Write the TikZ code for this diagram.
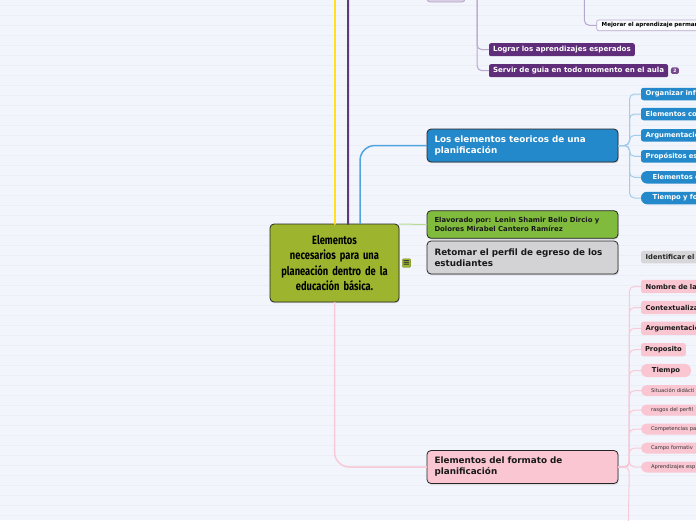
\documentclass[tikz,border=0pt]{standalone}
\usepackage{fontspec}
\setmainfont{DejaVu Sans}
\newfontfamily\condfont[FakeStretch=0.78]{Fira Sans}
\usetikzlibrary{positioning, shadows}
\definecolor{bgPaper}{HTML}{F3F5FC}
\definecolor{bgRule}{HTML}{EBEEF7}
\definecolor{mOlive}{HTML}{9DB52E}
\definecolor{mBlue}{HTML}{2389CB}
\definecolor{mGreen}{HTML}{80BB3E}
\definecolor{mGray}{HTML}{D3D3D6}
\definecolor{mPink}{HTML}{F9C6D2}
\definecolor{mPurple}{HTML}{5F2D79}
\definecolor{mLilac}{HTML}{D8CFE2}
\definecolor{lnYellow}{HTML}{FFE21C}
\definecolor{lnPurple}{HTML}{5E3A7C}
\definecolor{lnLilac}{HTML}{B9A6CD}
\definecolor{lnBlue}{HTML}{4FA4DD}
\definecolor{lnSky}{HTML}{A2CCEB}
\definecolor{lnPink}{HTML}{F8C9D6}
\definecolor{lnGreen}{HTML}{B8DA92}
\definecolor{lnGray}{HTML}{D6D7DC}
\colorlet{inkdark}{black!85}

\begin{document}
\begin{tikzpicture}[x=1pt, y=-1pt,
  every node/.style={inner sep=0pt, outer sep=0pt},
  hub/.style={draw=inkdark, fill=mOlive, rounded corners=4pt, line width=0.8pt,
              minimum width=129pt, minimum height=78pt, text width=125pt, align=center,
              font=\condfont\bfseries\fontsize{12}{15.3}\selectfont,
              drop shadow={shadow xshift=0.6pt, shadow yshift=-1.2pt, opacity=0.3}},
  topic/.style={draw=inkdark, rounded corners=4pt, line width=0.8pt, anchor=west,
                minimum width=191pt, minimum height=33pt, text width=176pt,
                inner xsep=7.5pt, align=left, text=black!90,
                font=\fontsize{8.8}{11}\selectfont\bfseries,
                drop shadow={shadow xshift=0.6pt, shadow yshift=-1.2pt, opacity=0.3}},
  leaf/.style={anchor=west, rounded corners=2.5pt, minimum height=12.5pt,
               inner xsep=4.7pt, text width=62pt, align=left,
               font=\fontsize{6.8}{7}\selectfont\bfseries},
  pill/.style={leaf, rounded corners=6pt, inner xsep=11.7pt, text width=55pt},
  tiny pill/.style={anchor=west, rounded corners=5.5pt, minimum height=11pt,
                    inner xsep=10pt, text width=55pt, align=left, fill=mPink,
                    text=black!80, font=\fontsize{5.2}{5.5}\selectfont},
  goal/.style={anchor=west, fill=mPurple, text=white, rounded corners=2pt,
               minimum height=13pt, inner xsep=4pt,
               font=\fontsize{7.1}{8}\selectfont\bfseries},
  trunk/.style={line width=2pt, line cap=round},
  twig/.style={line width=1pt, rounded corners=5pt},
]
  % paper
  \useasboundingbox (0,0) rectangle (696,520);
  \clip (0,0) rectangle (696,520);
  \fill[bgPaper] (0,0) rectangle (696,520);
  \foreach \k in {0,...,51}
    \draw[bgRule, line width=1pt] (0,5.3+10*\k) -- (696,5.3+10*\k);

  % root
  \node[hub] (hub) at (334.5,263)
    {Elementos\\necesarios para una\\planeación dentro de la\\educación básica.};
  \node[fill=mOlive, draw=mOlive!70!black, line width=0.3pt, rounded corners=1pt,
        minimum width=8.5pt, minimum height=8.5pt, text=black!80,
        font=\fontsize{8.5}{8.5}\selectfont\bfseries] (note) at (406.5,263) {≡};

  % main topics
  \node[topic, fill=mBlue, text=white] (teoria) at (427,145.5)
    {Los elementos teoricos de una\\planificación};
  \node[topic, fill=mGreen, minimum height=27.6pt,
        font=\fontsize{6.9}{9}\selectfont\bfseries] (autores) at (427,224.5)
    {Elavorado por: Lenin Shamir Bello Dircio y\\Dolores Mirabel Cantero Ramírez};
  \node[topic, fill=mGray] (perfil) at (427,257.5)
    {Retomar el perfil de egreso de los\\estudiantes};
  \node[topic, fill=mPink] (formato) at (427,467)
    {Elementos del formato de\\planificación};

  % purple branch (top, cut by the page)
  \node[fill=mLilac, draw=lnLilac, line width=0.8pt, rounded corners=3pt,
        minimum width=38pt, minimum height=24pt] (metas) at (446,-10) {};
  \node[goal] (lograr) at (489,49.7) {Lograr los aprendizajes esperados};
  \node[goal] (servir) at (489,70.7) {Servir de guia en todo momento en el aula};
  \node[fill=mPurple!85, text=white, rounded corners=1.5pt, minimum width=8pt,
        minimum height=6.5pt, font=\fontsize{4.5}{5}\selectfont\bfseries,
        right=2.7pt of servir] (badge) {2};
  \node[anchor=west, fill=white!60!bgPaper, draw=lnLilac, line width=0.7pt,
        rounded corners=2pt, minimum height=10.7pt, inner xsep=5pt, text width=110pt,
        align=left, font=\fontsize{5.6}{6}\selectfont\bfseries] (mejorar) at (596.7,25.3)
    {Mejorar el aprendizaje perman};
  \coordinate (mejorarup) at (584.3,-12);
  \coordinate (yellowup) at (334.5,-12);
  \coordinate (purpleup) at (380,-14);
  \coordinate (formdown) at (628.3,530);

  % blue leaves
  \node[leaf, fill=mBlue, text=white] (t1) at (641,94) {Organizar inf};
  \node[leaf, fill=mBlue, text=white] (t2) at (641,114) {Elementos co};
  \node[leaf, fill=mBlue, text=white] (t3) at (641,135.3) {Argumentació};
  \node[leaf, fill=mBlue, text=white] (t4) at (641,156.3) {Propósitos es};
  \node[pill, fill=mBlue, text=white] (t5) at (641,177.3) {Elementos d};
  \node[pill, fill=mBlue, text=white] (t6) at (641,198) {Tiempo y fo};

  % gray leaf
  \node[leaf, fill=mGray!90!white, text=black!85] (p1) at (641,257.2) {Identificar el};

  % pink leaves
  \node[leaf, fill=mPink, text=black!90, minimum height=13.3pt] (f1) at (641,286.5) {Nombre de la};
  \node[leaf, fill=mPink, text=black!90, minimum height=13.3pt] (f2) at (641,307.5) {Contextualiza};
  \node[leaf, fill=mPink, text=black!90, minimum height=13.3pt] (f3) at (641,328.3) {Argumentació};
  \node[leaf, fill=mPink, text=black!90, minimum height=13.3pt, text width={},
        inner xsep=4pt] (f4) at (641,349.7) {Proposito};
  \node[leaf, fill=mPink, text=black!90, minimum height=13.3pt, text width={},
        minimum width=50pt, align=center, rounded corners=6.5pt] (f5) at (641,370.5) {Tiempo};
  \node[tiny pill] (f6) at (641,390.7) {Situación didácti};
  \node[tiny pill] (f7) at (641,410) {rasgos del perfil};
  \node[tiny pill] (f8) at (641,429) {Competencias pa};
  \node[tiny pill] (f9) at (641,448) {Campo formativ};
  \node[tiny pill] (f10) at (641,467) {Aprendizajes esp};

  % root connectors
  \draw[trunk, lnYellow] (hub.north) -- (yellowup);
  \draw[trunk, lnPurple, rounded corners=14pt] ([xshift=13.5pt]hub.north) |- (purpleup);
  \draw[line width=1.5pt, lnBlue, rounded corners=15pt] ([xshift=25.5pt]hub.north) |- (teoria.west);
  \draw[line width=1pt, lnGreen] (hub.north east) -- (autores.west);
  \draw[line width=1.5pt, lnPink, rounded corners=15pt] (hub.south) |- (formato.west);

  % topic connectors
  \foreach \leafname in {t1,t2,t3,t4,t5,t6}
    \draw[twig, lnSky] (teoria.east) -- ++(11.5,0) |- (\leafname.west);
  \foreach \leafname in {f1,f2,f3,f4,f5,f6,f7,f8,f9,f10}
    \draw[twig, lnPink] (formato.east) -- ++(11.3,0) |- (\leafname.west);
  \draw[twig, lnPink] (formato.east) -- ++(11.3,0) -- (formdown);
  \foreach \leafname in {lograr,servir}
    \draw[twig, lnLilac] (metas.east) -- ++(12,0) |- (\leafname.west);
  \draw[twig, lnLilac] (mejorarup) |- (mejorar.west);
\end{tikzpicture}
\end{document}
